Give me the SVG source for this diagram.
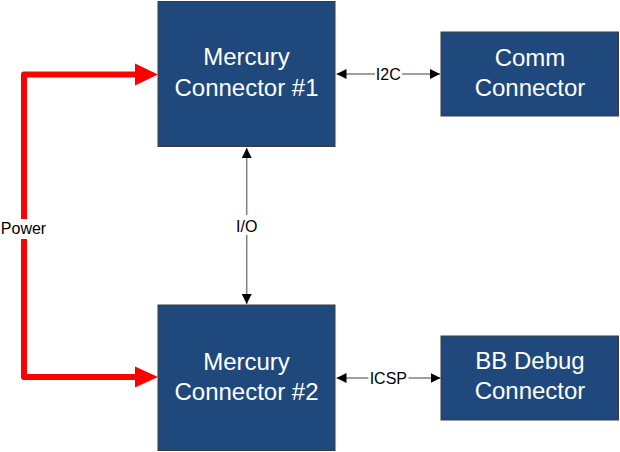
<svg xmlns="http://www.w3.org/2000/svg" width="620" height="452" viewBox="0 0 620 452">
<style>
.box{fill:#1f497d;stroke:#3a3a3a;stroke-width:1}
.bt{font-family:"Liberation Sans",Arial,sans-serif;font-size:24px;fill:#ffffff;text-anchor:middle}
.lbl{font-family:"Liberation Sans",Arial,sans-serif;font-size:16px;fill:#000000;text-anchor:middle}
.ln{stroke:#7f7f7f;stroke-width:1.5;fill:none}
.pw{stroke:#ff0000;stroke-width:6;fill:none;stroke-linejoin:round}
</style>
<defs>
<marker id="ah" viewBox="0 0 10 10" refX="10" refY="5" markerWidth="10" markerHeight="10" markerUnits="userSpaceOnUse" orient="auto-start-reverse">
<path d="M0,0 L10,5 L0,10 Z" fill="#000000"/>
</marker>
</defs>
<g id="connectors">
<path class="pw" d="M135,74.5 H24 V377 H135"/>
<path d="M135,63.5 L158,74.5 L135,85.5 Z" fill="#ff0000"/>
<path d="M135,366.5 L158,377 L135,387.5 Z" fill="#ff0000"/>
<rect x="0" y="219" width="48" height="20" fill="#ffffff"/>
<text class="lbl" x="23.5" y="234">Power</text>
<line class="ln" x1="246.7" y1="148" x2="246.7" y2="304" marker-start="url(#ah)" marker-end="url(#ah)"/>
<rect x="232" y="215" width="30" height="20" fill="#ffffff"/>
<text class="lbl" x="246.7" y="231.5">I/O</text>
<line class="ln" x1="336.5" y1="74" x2="440" y2="74" marker-start="url(#ah)" marker-end="url(#ah)"/>
<rect x="375" y="64" width="27" height="18" fill="#ffffff"/>
<text class="lbl" x="388.3" y="79.5">I2C</text>
<line class="ln" x1="336.5" y1="378" x2="440.5" y2="378" marker-start="url(#ah)" marker-end="url(#ah)"/>
<rect x="368.5" y="368" width="40" height="18" fill="#ffffff"/>
<text class="lbl" x="388.3" y="383.5">ICSP</text>
</g>
<g id="mercury1">
<rect class="box" x="158" y="1.5" width="177" height="145"/>
<text class="bt" x="246.5" y="65">Mercury</text>
<text class="bt" x="246.5" y="96">Connector #1</text>
</g>
<g id="comm">
<rect class="box" x="441" y="32" width="177.5" height="84"/>
<text class="bt" x="530" y="66">Comm</text>
<text class="bt" x="530" y="95.5">Connector</text>
</g>
<g id="mercury2">
<rect class="box" x="158" y="305" width="177" height="145.5"/>
<text class="bt" x="246.5" y="370">Mercury</text>
<text class="bt" x="246.5" y="399.5">Connector #2</text>
</g>
<g id="bbdebug">
<rect class="box" x="441" y="336" width="177.5" height="84"/>
<text class="bt" x="530" y="368.5">BB Debug</text>
<text class="bt" x="530" y="398.5">Connector</text>
</g>
</svg>
